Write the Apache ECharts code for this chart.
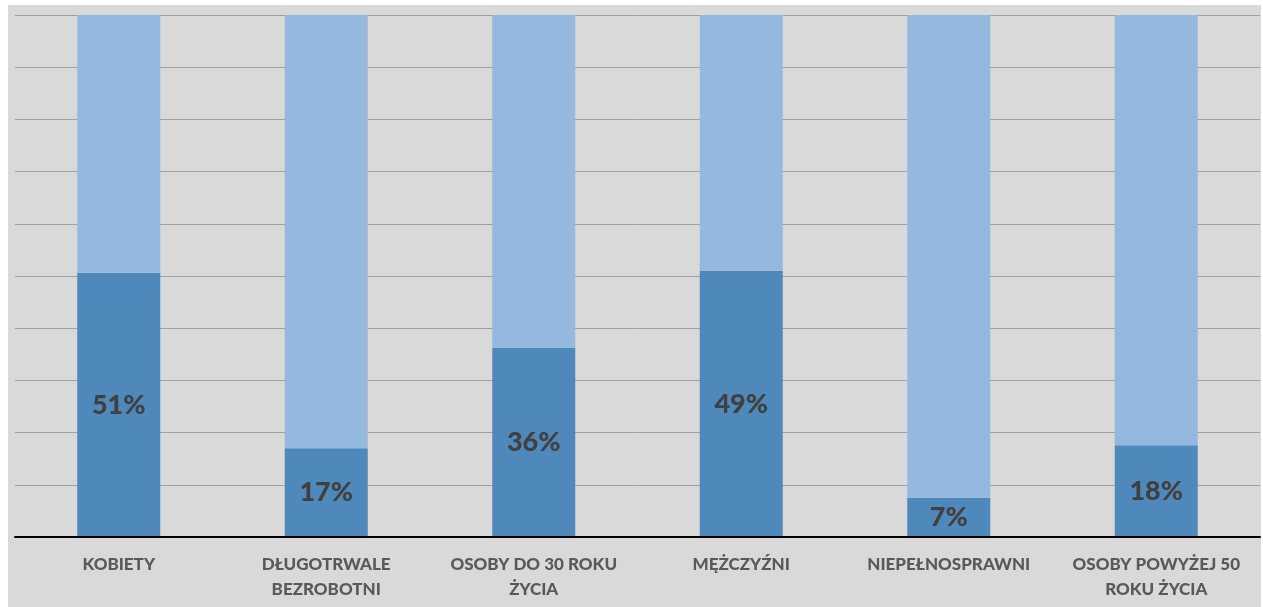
<!DOCTYPE html>
<html><head><meta charset="utf-8">
<script src="https://cdn.jsdelivr.net/npm/echarts@6/dist/echarts.min.js"></script>
<style>
html,body{margin:0;padding:0;background:#fff;width:1263px;height:607px;overflow:hidden}
#c{position:absolute;left:8px;top:5px;width:1253px;height:602px}
</style></head>
<body><div id="c"></div>
<script>
const categories = ['KOBIETY', 'DŁUGOTRWALE\nBEZROBOTNI', 'OSOBY DO 30 ROKU\nŻYCIA', 'MĘŻCZYŹNI', 'NIEPEŁNOSPRAWNI', 'OSOBY POWYŻEJ 50\nROKU ŻYCIA'];
const shareValues = [50.6, 17.0, 36.2, 51.0, 7.5, 17.6];
const restValues = [49.4, 83.0, 63.8, 49.0, 92.5, 82.4];
const valueLabels = ['51%', '17%', '36%', '49%', '7%', '18%'];

const chart = echarts.init(document.getElementById('c'), null, {renderer:'canvas'});
chart.setOption({
  backgroundColor: '#d9d9d9',
  animation: false,
  grid: {left: 7, right: 1, top: 10, bottom: 70, containLabel: false},
  xAxis: {
    type: 'category', data: categories,
    axisLine: {lineStyle: {color: '#000', width: 2}},
    axisTick: {show: false},
    axisLabel: {interval: 0, margin: 15, color: '#595959', fontFamily: 'Lato', fontWeight: 900, fontSize: 17, lineHeight: 25, align: 'center'},
    z: 10
  },
  yAxis: {
    type: 'value', min: 0, max: 100, interval: 10,
    axisLabel: {show: false}, axisLine: {show: false}, axisTick: {show: false},
    splitLine: {lineStyle: {color: '#a0a0a0', width: 1}}
  },
  series: [
    {type: 'bar', stack: 's', data: shareValues, barCategoryGap: '60%',
     itemStyle: {color: '#4f88bb'},
     label: {show: true, position: 'inside', color: '#404040', fontFamily: 'Lato', fontWeight: 900, fontSize: 27,
       formatter: p => valueLabels[p.dataIndex]}},
    {type: 'bar', stack: 's', data: restValues, itemStyle: {color: '#95b8df'}}
  ]
});
</script></body></html>
